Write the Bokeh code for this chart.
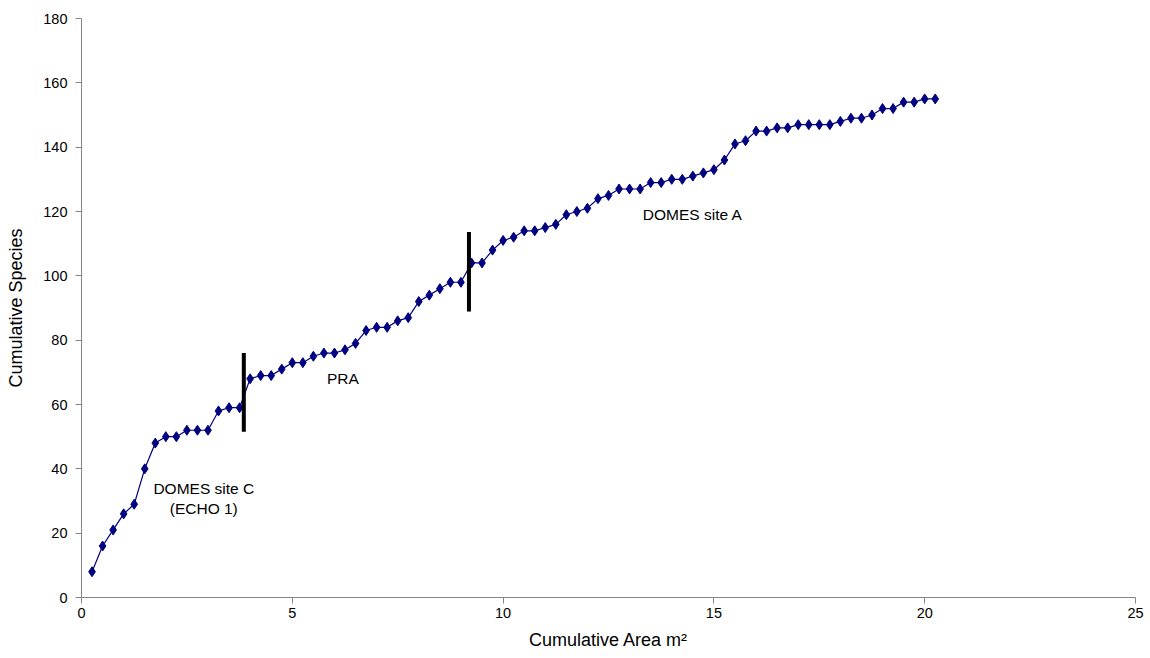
from bokeh.plotting import figure
from bokeh.models import Range1d, Label, FixedTicker
from bokeh.embed import file_html
from bokeh.resources import INLINE

area = [0.25, 0.5, 0.75, 1.0, 1.25, 1.5, 1.75, 2.0, 2.25, 2.5, 2.75, 3.0, 3.25, 3.5, 3.75,
        4.0, 4.25, 4.5, 4.75, 5.0, 5.25, 5.5, 5.75, 6.0, 6.25, 6.5, 6.75, 7.0, 7.25, 7.5,
        7.75, 8.0, 8.25, 8.5, 8.75, 9.0, 9.25, 9.5, 9.75, 10.0, 10.25, 10.5, 10.75, 11.0,
        11.25, 11.5, 11.75, 12.0, 12.25, 12.5, 12.75, 13.0, 13.25, 13.5, 13.75, 14.0,
        14.25, 14.5, 14.75, 15.0, 15.25, 15.5, 15.75, 16.0, 16.25, 16.5, 16.75, 17.0,
        17.25, 17.5, 17.75, 18.0, 18.25, 18.5, 18.75, 19.0, 19.25, 19.5, 19.75, 20.0, 20.25]
species = [8, 16, 21, 26, 29, 40, 48, 50, 50, 52, 52, 52, 58, 59, 59,
           68, 69, 69, 71, 73, 73, 75, 76, 76, 77, 79, 83, 84, 84, 86,
           87, 92, 94, 96, 98, 98, 104, 104, 108, 111, 112, 114, 114, 115,
           116, 119, 120, 121, 124, 125, 127, 127, 127, 129, 129, 130,
           130, 131, 132, 133, 136, 141, 142, 145, 145, 146, 146, 147,
           147, 147, 147, 148, 149, 149, 150, 152, 152, 154, 154, 155, 155]

divider_x = [3.85, 9.19]
divider_y0 = [51.5, 88.9]
divider_y1 = [76.0, 113.6]

label_texts = ["DOMES site C", "(ECHO 1)", "PRA", "DOMES site A"]
label_x = [2.9, 2.9, 6.2, 14.5]
label_y = [33.8, 27.8, 68.0, 119.0]

x_ticks = [0, 5, 10, 15, 20, 25]
y_ticks = [0, 20, 40, 60, 80, 100, 120, 140, 160, 180]

FONT = "Liberation Sans"
NAVY = "#000080"

p = figure(width=1150, height=658, output_backend="svg", toolbar_location=None,
           x_range=Range1d(0, 25), y_range=Range1d(0, 180),
           min_border_left=81, min_border_right=15, min_border_top=18, min_border_bottom=61)
p.outline_line_color = None
p.xgrid.visible = False
p.ygrid.visible = False
p.background_fill_color = "white"

p.line(area, species, line_color=NAVY, line_width=1.2)
p.scatter(area, species, marker="diamond", size=10, fill_color=NAVY, line_color=NAVY)

p.segment(x0=divider_x, y0=divider_y0, x1=divider_x, y1=divider_y1, line_color="black", line_width=4)

for t, x, y in zip(label_texts, label_x, label_y):
    p.add_layout(Label(x=x, y=y, text=t, text_font=FONT, text_font_size="15.5px",
                       text_align="center", text_baseline="middle", text_color="black"))

for ax in (p.xaxis[0], p.yaxis[0]):
    ax.axis_line_color = "#868686"
    ax.major_tick_line_color = "#868686"
    ax.minor_tick_line_color = None
    ax.major_tick_out = 6
    ax.major_tick_in = 0
    ax.major_label_text_font = FONT
    ax.major_label_text_font_size = "14.5px"
    ax.major_label_text_color = "black"
    ax.axis_label_text_font = FONT
    ax.axis_label_text_font_size = "18px"
    ax.axis_label_text_font_style = "normal"
    ax.axis_label_text_color = "black"

p.xaxis[0].ticker = FixedTicker(ticks=x_ticks)
p.yaxis[0].ticker = FixedTicker(ticks=y_ticks)
p.xaxis[0].axis_label = "Cumulative Area m²"
p.yaxis[0].axis_label = "Cumulative Species"
p.xaxis[0].major_label_standoff = 4
p.yaxis[0].major_label_standoff = 8
p.xaxis[0].axis_label_standoff = 9
p.yaxis[0].axis_label_standoff = 14

open("out.html", "w").write(file_html(p, INLINE))
